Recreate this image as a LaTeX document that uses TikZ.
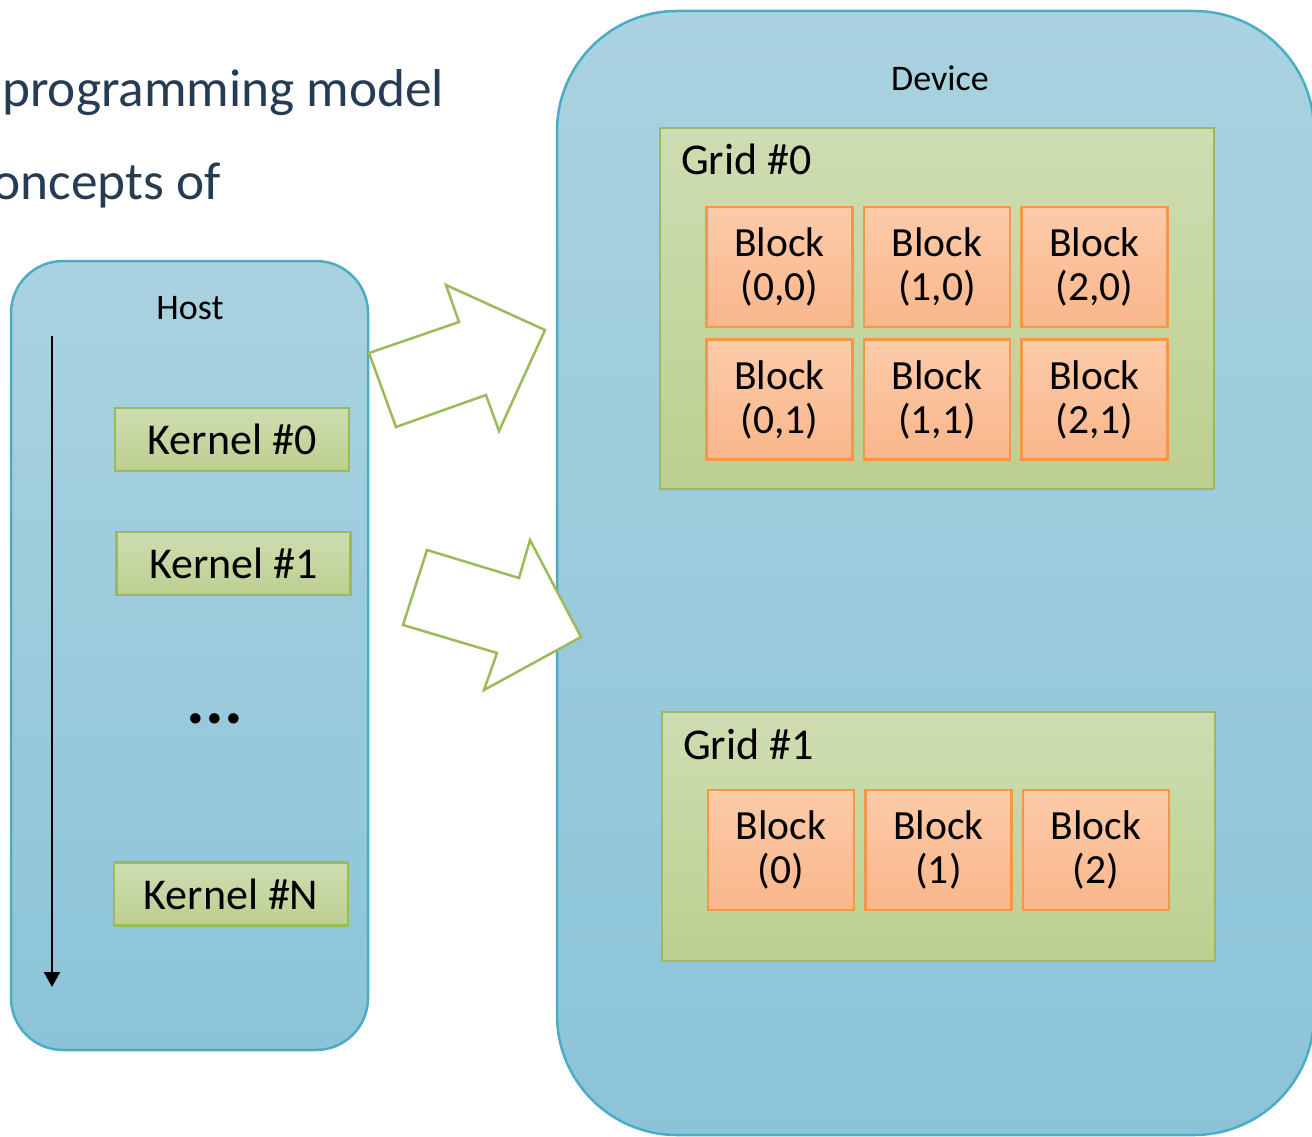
\documentclass[tikz,border=0pt]{standalone}
\usepackage{fontspec}
\setmainfont{Carlito}
\usetikzlibrary{
    arrows.meta,
    positioning
}
\definecolor{PanelTop}{RGB}{170,210,224}
\definecolor{PanelBottom}{RGB}{139,196,216}
\definecolor{PanelEdge}{RGB}{75,172,198}
\definecolor{GreenTop}{RGB}{206,221,178}
\definecolor{GreenBottom}{RGB}{188,207,143}
\definecolor{GreenEdge}{RGB}{155,187,89}
\definecolor{PeachTop}{RGB}{252,203,169}
\definecolor{PeachBottom}{RGB}{250,182,139}
\definecolor{PeachEdge}{RGB}{247,150,70}
\definecolor{TitleInk}{RGB}{38,60,84}
\newcommand{\pxfont}[1]{\fontsize{#1}{#1}\selectfont}

\begin{document}
\begin{tikzpicture}[
    x=1pt, y=-1pt,
    panel/.style={draw=PanelEdge, line width=2.5pt,
        top color=PanelTop, bottom color=PanelBottom, inner sep=0pt},
    kernel/.style={draw=GreenEdge, line width=2.5pt,
        top color=GreenTop, bottom color=GreenBottom,
        minimum width=234pt, minimum height=63pt, inner sep=0pt,
        font=\pxfont{44}},
    gridbox/.style={draw=GreenEdge, line width=2.5pt,
        top color=GreenTop, bottom color=GreenBottom, inner sep=0pt},
    block/.style={draw=PeachEdge, line width=2.5pt,
        top color=PeachTop, bottom color=PeachBottom,
        minimum width=146pt, minimum height=120pt, inner sep=0pt,
        align=center, font=\fontsize{41.5}{44}\selectfont},
    launch/.style={draw=GreenEdge, line width=2.5pt, fill=white}
]

\useasboundingbox (0,0) rectangle (1312,1137);

% slide text, cut at the left
\node[anchor=base west, inner sep=0pt, text=TitleInk, font=\pxfont{53.3}]
    (title1) at (2,107) {programming model};
\node[anchor=base east, inner sep=0pt, text=TitleInk, font=\pxfont{53.3}]
    (title2) at (221,200) {oncepts of};

% host side
\node[panel, rounded corners=52pt, minimum width=357pt, minimum height=789pt]
    (host) at (189.5,655.5) {};
\node[font=\pxfont{36}] (hostlabel) at (190,308) {Host};

\coordinate (tstart) at (52,336);
\coordinate (tend) at (52,987);
\draw[-{Triangle[length=15pt,width=16pt]}, line width=2pt] (tstart) -- (tend);

\node[kernel] (k0) at (232,439.5) {Kernel \#0};
\node[kernel] (k1) at (233.5,563.5) {Kernel \#1};
\node[font=\bfseries\pxfont{70}, inner sep=0pt, anchor=base]
    (dots) at (215,723) {...};
\node[kernel] (kN) at (231,894) {Kernel \#N};

% device side
\node[panel, rounded corners=120pt, minimum width=757pt, minimum height=1124pt]
    (device) at (935.5,573) {};
\node[font=\pxfont{36}] (devicelabel) at (940,78) {Device};

\node[gridbox, minimum width=554pt, minimum height=361pt]
    (grid0) at (937,308.5) {};
\node[anchor=base west, inner sep=0pt, font=\pxfont{44}]
    (grid0label) at (681,175) {Grid \#0};

\node[block] (b00) at (779.5,267) {Block\\(0,0)};
\node[block, right=9pt of b00] (b10) {Block\\(1,0)};
\node[block, right=9pt of b10] (b20) {Block\\(2,0)};
\node[block, below=10pt of b00] (b01) {Block\\(0,1)};
\node[block, right=9pt of b01] (b11) {Block\\(1,1)};
\node[block, right=9pt of b11] (b21) {Block\\(2,1)};

\node[gridbox, minimum width=553pt, minimum height=249pt]
    (grid1) at (938.5,836.5) {};
\node[anchor=base west, inner sep=0pt, font=\pxfont{44}]
    (grid1label) at (683,759) {Grid \#1};

\node[block] (c0) at (781,850) {Block\\(0)};
\node[block, right=9pt of c0] (c1) {Block\\(1)};
\node[block, right=9pt of c1] (c2) {Block\\(2)};

% launch arrows
\draw[launch] (369,353) -- (459,322) -- (446,285) -- (545,330)
    -- (499,431) -- (486,395) -- (396,427) -- cycle;
\draw[launch] (427,550) -- (519,578) -- (530,540) -- (581,637)
    -- (484,690) -- (497,653) -- (403,625) -- cycle;

\end{tikzpicture}
\end{document}
